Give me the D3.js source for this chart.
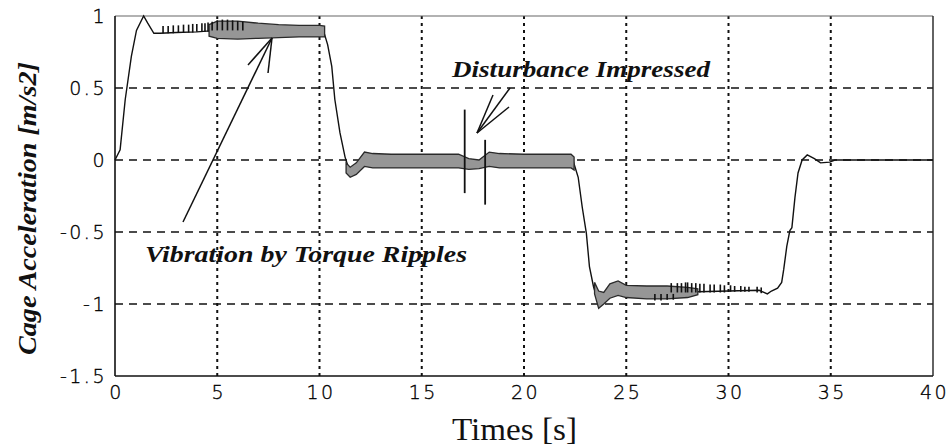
<!DOCTYPE html>
<html>
<head>
<meta charset="utf-8">
<script src="https://cdn.jsdelivr.net/npm/d3@7"></script>
<style>
  body { margin: 0; background: #fff; }
  svg { display: block; }
</style>
</head>
<body>
<svg id="chart" width="951" height="448"></svg>
<script>
// tick labels
var xTicks = [0, 5, 10, 15, 20, 25, 30, 35, 40]
var yTicks = [1, 0.5, 0, -0.5, -1, -1.5]

// mean trace [t, a]
var trace = [
  [0, 0], [0.25, 0.07], [0.5, 0.42], [0.8, 0.72], [1.05, 0.9], [1.4, 1.0], [1.6, 0.95],
  [1.9, 0.88], [2.2, 0.88], [3, 0.885], [4, 0.89], [5, 0.9], [7, 0.9], [10.2, 0.895],
  [10.4, 0.8], [10.6, 0.65], [10.75, 0.42], [11, 0.19], [11.25, 0.02], [11.5, -0.09],
  [12.2, 0.0], [17, -0.005], [22.4, -0.005], [22.65, -0.12], [22.85, -0.33], [23.05, -0.51],
  [23.2, -0.74], [23.4, -0.88], [23.65, -1.0], [24.2, -0.91], [25, -0.915], [28.5, -0.915],
  [30, -0.91], [31.5, -0.905], [31.9, -0.93], [32.1, -0.91], [32.4, -0.89], [32.6, -0.85],
  [32.7, -0.76], [32.85, -0.6], [33.0, -0.49], [33.1, -0.47], [33.25, -0.26], [33.4, -0.09],
  [33.6, 0], [33.85, 0.035], [34.2, 0.01], [34.5, -0.02], [34.95, -0.015], [35.2, 0], [40, 0]
]

// ripple envelopes [t, upper, lower]
var band1 = [
  [4.6, 0.94, 0.86], [5.0, 0.965, 0.845], [6.0, 0.965, 0.84], [7.0, 0.95, 0.845],
  [8.0, 0.94, 0.85], [9.0, 0.935, 0.855], [10.0, 0.935, 0.855], [10.25, 0.93, 0.855]
]
var band2 = [
  [11.3, -0.02, -0.09], [11.5, -0.05, -0.12], [11.8, -0.02, -0.1], [12.2, 0.055, -0.045],
  [12.6, 0.045, -0.055], [13.5, 0.04, -0.055], [15, 0.04, -0.055], [16.8, 0.04, -0.055],
  [17.3, 0.01, -0.065], [17.8, 0.0, -0.06], [18.3, 0.055, -0.045], [18.8, 0.045, -0.055],
  [20, 0.04, -0.055], [22.3, 0.04, -0.055], [22.45, 0.02, -0.07]
]
var band3 = [
  [23.45, -0.85, -0.93], [23.65, -0.91, -1.03], [23.9, -0.92, -1.0], [24.2, -0.86, -0.96],
  [24.6, -0.84, -0.94], [25, -0.87, -0.955], [26, -0.875, -0.965], [27, -0.875, -0.965],
  [28, -0.885, -0.955], [28.5, -0.895, -0.935]
]

// sparse ripple teeth [t, base, tip]
var teeth1 = [
  [2.35, 0.88, 0.93], [2.6, 0.88, 0.93], [2.85, 0.88, 0.935], [3.1, 0.885, 0.935],
  [3.35, 0.885, 0.94], [3.6, 0.885, 0.94], [3.8, 0.885, 0.945], [4.0, 0.89, 0.945],
  [4.25, 0.89, 0.95], [4.4, 0.89, 0.95], [4.55, 0.89, 0.955], [4.75, 0.9, 0.96],
  [5.0, 0.9, 0.97], [5.25, 0.9, 0.975], [5.5, 0.9, 0.975], [5.75, 0.9, 0.97],
  [6.0, 0.9, 0.965], [6.25, 0.9, 0.96]
]
var teeth2 = [
  [26.4, -0.93, -0.975], [26.7, -0.93, -0.975], [27.0, -0.93, -0.97], [27.3, -0.93, -0.97],
  [27.2, -0.92, -0.855], [27.5, -0.92, -0.855], [27.7, -0.92, -0.855], [27.9, -0.92, -0.85],
  [28.0, -0.92, -0.85], [28.2, -0.92, -0.855], [28.4, -0.92, -0.855], [28.6, -0.92, -0.86],
  [28.8, -0.92, -0.86], [29.1, -0.92, -0.865], [29.3, -0.92, -0.865], [29.6, -0.92, -0.865],
  [29.8, -0.92, -0.87], [30.1, -0.915, -0.87], [30.3, -0.915, -0.875], [30.6, -0.915, -0.875],
  [30.8, -0.915, -0.88], [31.0, -0.915, -0.88], [31.4, -0.92, -0.88], [31.6, -0.925, -0.885]
]

// disturbance spikes [t, top, bottom]
var spikes = [[17.1, 0.35, -0.23], [18.1, 0.14, -0.31]]

var svg = d3.select('#chart')
var x = d3.scaleLinear().domain([0, 40]).range([115, 933])
var y = d3.scaleLinear().domain([-1.5, 1]).range([376, 16])

// grid
svg.append('g').selectAll('line')
  .data(yTicks.filter(function (d) { return d > -1.5 && d < 1 }))
  .enter().append('line')
  .attr('x1', x(0)).attr('x2', x(40))
  .attr('y1', function (d) { return y(d) }).attr('y2', function (d) { return y(d) })
  .style('stroke', '#111').style('stroke-width', 1.4).style('stroke-dasharray', '8,6')

svg.append('g').selectAll('line')
  .data(xTicks.filter(function (d) { return d > 0 && d < 40 }))
  .enter().append('line')
  .attr('x1', function (d) { return x(d) }).attr('x2', function (d) { return x(d) })
  .attr('y1', y(1)).attr('y2', y(-1.5))
  .style('stroke', '#111').style('stroke-width', 2).style('stroke-dasharray', '3,4')

// frame
svg.append('line').attr('x1', x(0)).attr('x2', x(40)).attr('y1', y(1)).attr('y2', y(1))
  .style('stroke', '#666').style('stroke-width', 1.2)
svg.append('line').attr('x1', x(0)).attr('x2', x(40)).attr('y1', y(-1.5)).attr('y2', y(-1.5))
  .style('stroke', '#111').style('stroke-width', 1.6)
svg.append('line').attr('x1', x(0)).attr('x2', x(0)).attr('y1', y(1)).attr('y2', y(-1.5))
  .style('stroke', '#111').style('stroke-width', 1.6)
svg.append('line').attr('x1', x(40)).attr('x2', x(40)).attr('y1', y(1)).attr('y2', y(-1.5))
  .style('stroke', '#222').style('stroke-width', 1.4)

// axes (labels only)
var xAxis = svg.append('g').attr('transform', 'translate(0,' + y(-1.5) + ')')
  .call(d3.axisBottom(x).tickValues(xTicks).tickSize(0).tickPadding(8).tickFormat(d3.format('d')))
var yAxis = svg.append('g').attr('transform', 'translate(' + x(0) + ',0)')
  .call(d3.axisLeft(y).tickValues(yTicks).tickSize(0).tickPadding(8).tickFormat(function (d) { return String(d) }))
xAxis.select('.domain').remove()
yAxis.select('.domain').remove()
svg.selectAll('.tick text')
  .attr('font-family', 'DejaVu Sans, sans-serif')
  .attr('font-size', 19)
  .attr('font-weight', 300)
  .attr('letter-spacing', 2.5)
  .attr('fill', '#000')
  .style('stroke', '#000').style('stroke-width', 0.35)
xAxis.selectAll('.tick text').attr('dx', 1).attr('dy', '0.8em')

// trace, then ripple bands over it
var line = d3.line().x(function (d) { return x(d[0]) }).y(function (d) { return y(d[1]) })
svg.append('path').datum(trace).attr('d', line)
  .style('fill', 'none').style('stroke', '#111').style('stroke-width', 1.4)

var area = d3.area()
  .x(function (d) { return x(d[0]) })
  .y0(function (d) { return y(d[2]) })
  .y1(function (d) { return y(d[1]) })

;[band1, band2, band3].forEach(function (b) {
  svg.append('path').datum(b).attr('d', area)
    .style('fill', '#969696').style('stroke', '#2a2a2a').style('stroke-width', 1.3)
})

// teeth
svg.append('g').selectAll('line').data(teeth1.concat(teeth2)).enter().append('line')
  .attr('x1', function (d) { return x(d[0]) }).attr('x2', function (d) { return x(d[0]) })
  .attr('y1', function (d) { return y(d[1]) }).attr('y2', function (d) { return y(d[2]) })
  .style('stroke', '#111').style('stroke-width', 1.6)

// spikes
svg.append('g').selectAll('line').data(spikes).enter().append('line')
  .attr('x1', function (d) { return x(d[0]) }).attr('x2', function (d) { return x(d[0]) })
  .attr('y1', function (d) { return y(d[1]) }).attr('y2', function (d) { return y(d[2]) })
  .style('stroke', '#111').style('stroke-width', 1.8)

// annotations
function arrow (tip, ends) {
  ends.forEach(function (e) {
    svg.append('line').attr('x1', tip[0]).attr('y1', tip[1]).attr('x2', e[0]).attr('y2', e[1])
      .style('stroke', '#111').style('stroke-width', 1.5)
  })
}
arrow([272, 38], [[183, 222], [248, 65], [268, 73]])
arrow([477, 133], [[510, 88], [493, 95], [509, 107]])

svg.append('text').attr('x', 145).attr('y', 262)
  .attr('textLength', 322).attr('lengthAdjust', 'spacingAndGlyphs')
  .attr('font-family', 'Liberation Serif, serif').attr('font-style', 'italic').attr('font-weight', 'bold')
  .attr('font-size', 23).attr('fill', '#111')
  .text('Vibration by Torque Ripples')

svg.append('text').attr('x', 452).attr('y', 77)
  .attr('textLength', 258).attr('lengthAdjust', 'spacingAndGlyphs')
  .attr('font-family', 'Liberation Serif, serif').attr('font-style', 'italic').attr('font-weight', 'bold')
  .attr('font-size', 24).attr('fill', '#111')
  .text('Disturbance Impressed')

svg.append('text').attr('x', 452).attr('y', 440)
  .attr('textLength', 125).attr('lengthAdjust', 'spacingAndGlyphs')
  .attr('font-family', 'Liberation Serif, serif')
  .attr('font-size', 31).attr('fill', '#111')
  .text('Times [s]')

svg.append('text').attr('transform', 'translate(36,355) rotate(-90)')
  .attr('textLength', 293).attr('lengthAdjust', 'spacingAndGlyphs')
  .attr('font-family', 'Liberation Serif, serif').attr('font-style', 'italic').attr('font-weight', 'bold')
  .attr('font-size', 26).attr('fill', '#111')
  .text('Cage Acceleration [m/s2]')
</script>
</body>
</html>
